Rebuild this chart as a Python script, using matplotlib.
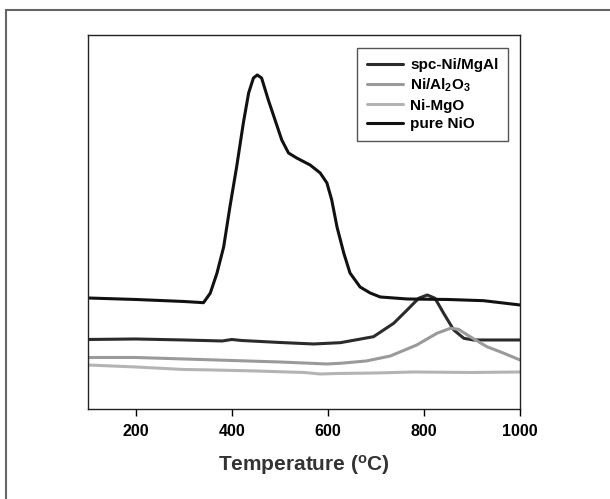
import numpy as np
import matplotlib
matplotlib.use("Agg")
import matplotlib.pyplot as plt
from matplotlib.patches import Rectangle

plt.rcParams['font.family'] = ['Liberation Sans', 'DejaVu Sans']
plt.rcParams['mathtext.fontset'] = 'custom'
plt.rcParams['mathtext.rm'] = 'Liberation Sans:bold'
plt.rcParams['mathtext.it'] = 'Liberation Sans:bold'
plt.rcParams['mathtext.bf'] = 'Liberation Sans:bold'

# TPR profiles (arbitrary intensity units)
x_nio = [100, 200, 300, 341, 355, 369, 383, 396, 410, 424, 435, 445, 453, 462, 476, 490,
         504, 518, 535, 563, 584, 598, 608, 619, 633, 646, 667, 688, 709, 765, 850, 924, 1000]
y_nio = [111, 109.5, 107.5, 106.3, 115.7, 135.7, 162, 202, 242, 286, 316, 331, 334, 331, 309, 289,
         269, 256, 251, 244, 236, 226, 209, 182, 156, 136, 122, 116, 112, 110, 109.5, 108.3, 104]

x_spc = [100, 200, 300, 380, 400, 420, 500, 570, 626, 695, 737, 765, 789, 807,
         823, 841, 862, 883, 903, 950, 1000]
y_spc = [69.5, 70, 69, 68, 69.5, 68.5, 66.5, 65, 66.3, 72.3, 85.7, 99, 110.7, 114,
         110.7, 95.7, 79, 70.7, 69, 69, 69]

x_al = [100, 200, 300, 400, 500, 598, 626, 680, 730, 785, 827, 855, 872, 896, 931, 965, 1000]
y_al = [51.5, 51.5, 50, 48.5, 47, 45, 45.7, 48, 53, 64, 75.7, 80.7, 79.7, 72.3, 62.3, 56, 49]

x_mgo = [100, 200, 300, 361, 450, 550, 584, 620, 700, 778, 900, 1000]
y_mgo = [44, 42, 39.5, 39, 38, 36.5, 35, 35.5, 36, 37, 36.5, 37]

fig = plt.figure(figsize=(6.1, 4.99), dpi=100)
ax = fig.add_axes([0.1438, 0.1804, 0.7087, 0.7495])

kw = dict(lw=2.2, solid_joinstyle='round', solid_capstyle='round')
ax.plot(x_spc, y_spc, color='#2b2b2b', label='spc-Ni/MgAl', **kw)
ax.plot(x_al, y_al, color='#9a9a9a', label='Ni/Al$_2$O$_3$', **kw)
ax.plot(x_mgo, y_mgo, color='#b4b4b4', label='Ni-MgO', **kw)
ax.plot(x_nio, y_nio, color='#111111', label='pure NiO', **kw)

ax.set_xlim(100, 1000)
ax.set_ylim(0, 374)
ax.set_xticks([200, 400, 600, 800, 1000])
ax.set_yticks([])
ax.tick_params(axis='x', direction='out', length=5, width=1, labelsize=11.5, pad=6)
for lab in ax.get_xticklabels():
    lab.set_fontweight('bold')
for s in ax.spines.values():
    s.set_linewidth(1)
    s.set_color('#222222')

ax.set_xlabel('Temperature ($^\\mathrm{o}$C)', fontsize=15, fontweight='bold',
              color='#333333', labelpad=10)

leg = ax.legend(loc='upper right', bbox_to_anchor=(0.973, 0.965), borderaxespad=0,
                fancybox=False, edgecolor='#555555', framealpha=1,
                prop={'weight': 'bold', 'size': 11}, handlelength=2.35,
                handletextpad=0.45, labelspacing=0.3, borderpad=0.65)
leg.get_frame().set_linewidth(1)

fig.patches.append(Rectangle((6 / 610, -0.1), 1.2, 1.1 - 10 / 499, transform=fig.transFigure,
                             fill=False, edgecolor='#666666', lw=1.5))

fig.savefig('out.png', dpi=100)
